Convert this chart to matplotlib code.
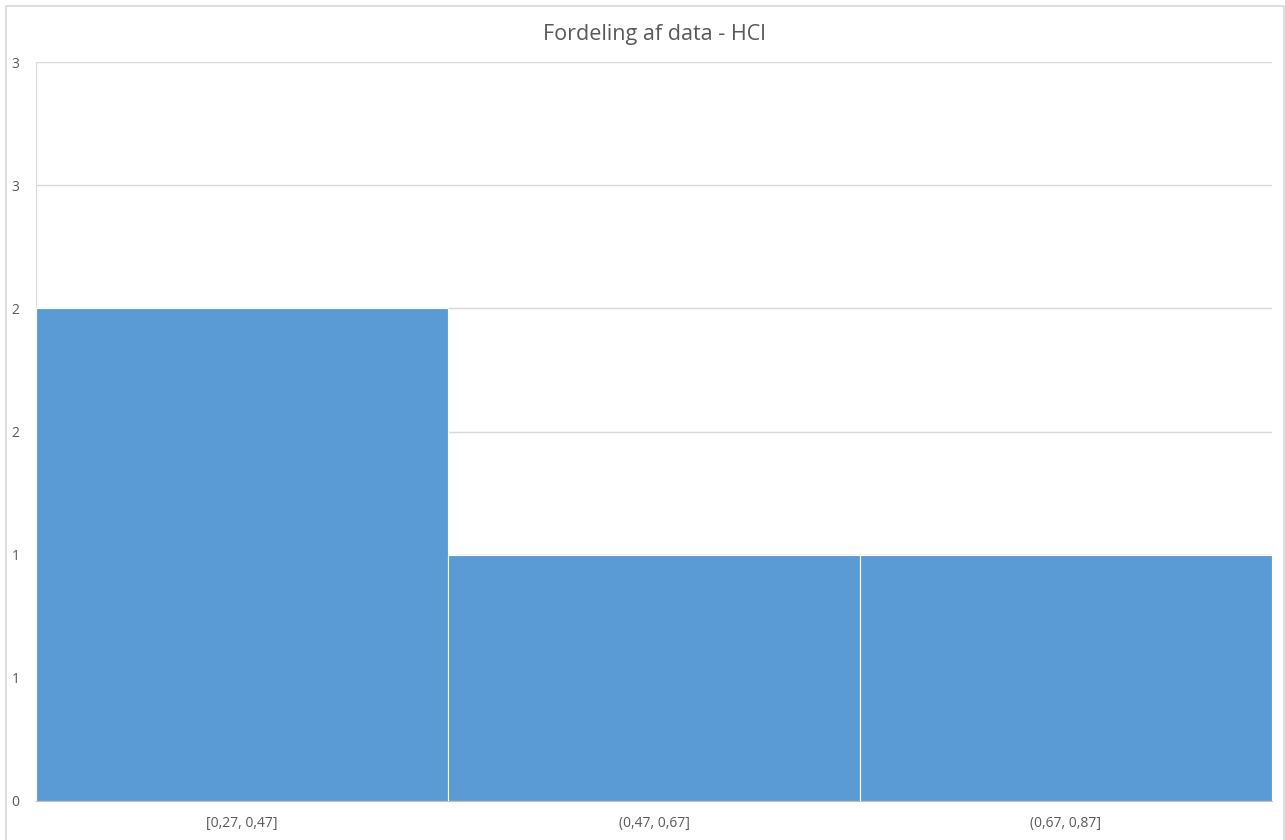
import matplotlib.pyplot as plt
from matplotlib.patches import Rectangle
from matplotlib.ticker import FuncFormatter, MultipleLocator

plt.rcParams['font.family'] = ['Open Sans', 'DejaVu Sans']

# Histogram bins and counts
categories = ['[0,27, 0,47]', '(0,47, 0,67]', '(0,67, 0,87]']
counts = [2, 1, 1]

W, H = 1285, 840
fig = plt.figure(figsize=(W / 100, H / 100), dpi=100)
ax = fig.add_axes([36 / W, 1 - 801 / H, (1272 - 36) / W, (801 - 62) / H])

x = range(len(categories))
ax.bar(x, counts, width=1.0, color='#5B9BD5', edgecolor='white', linewidth=0.8, zorder=3)

ax.set_xlim(-0.5, len(categories) - 0.5)
ax.set_ylim(0, 3)
ax.yaxis.set_major_locator(MultipleLocator(0.5))
# Excel shows the half steps rounded up
ax.yaxis.set_major_formatter(FuncFormatter(lambda v, p: f'{int(v + 0.5)}'))
ax.set_xticks(list(x))
ax.set_xticklabels(categories)

ax.grid(axis='y', color='#D9D9D9', linewidth=1, zorder=0)
ax.tick_params(axis='both', length=0, labelsize=10, colors='#595959')
ax.tick_params(axis='y', pad=12)
ax.tick_params(axis='x', pad=11)
for side in ['top', 'right']:
    ax.spines[side].set_visible(False)
ax.spines['left'].set_color('#D9D9D9')
ax.spines['bottom'].set_color('#BFBFBF')

ax.set_title('Fordeling af data - HCl', fontsize=15.5, color='#595959', pad=16)

# Chart area border
fig.patches.append(Rectangle((6 / W, -0.01), (1284 - 6) / W, 1 - 6 / H + 0.01,
                             transform=fig.transFigure, fill=False,
                             edgecolor='#D9D9D9', linewidth=1.2))

plt.savefig('out.png', dpi=100)
